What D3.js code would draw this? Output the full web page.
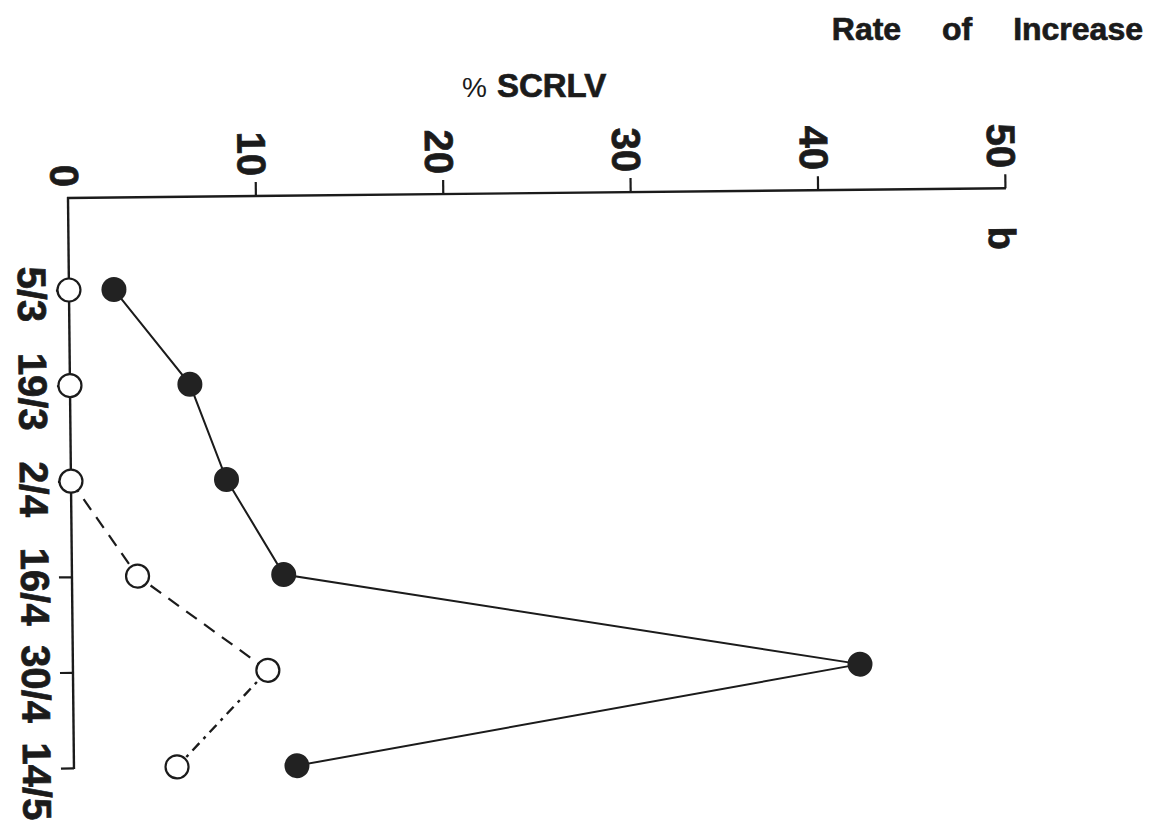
<!DOCTYPE html>
<html>
<head>
<meta charset="utf-8">
<script src="https://cdn.jsdelivr.net/npm/d3@7"></script>
<style>
  html, body { margin: 0; padding: 0; background: #fff; }
  svg { display: block; }
  text { font-family: "Liberation Sans", Arial, Helvetica, sans-serif; fill: #1b1b1b; }
  text.heavy { stroke: #1b1b1b; stroke-width: 0.7px; }
</style>
</head>
<body>
<svg id="chart" width="1157" height="827"></svg>
<script>
// Sampling dates (day/month)
const dates = ["5/3", "19/3", "2/4", "16/4", "30/4", "14/5"];
// Rate of increase, % SCRLV — filled markers
const filledSeries = [2.4, 6.4, 8.3, 11.3, 42.0, 11.9];
// Rate of increase, % SCRLV — open markers
const openSeries = [0, 0, 0, 3.5, 10.4, 5.5];
// Value-axis tick labels
const valueTicks = [0, 10, 20, 30, 40, 50];

const svg = d3.select("#chart");
const ink = "#1b1b1b";

// Titles
svg.append("text")
  .attr("class", "heavy")
  .attr("x", 1143).attr("y", 40)
  .attr("text-anchor", "end")
  .attr("font-size", 32).attr("font-weight", "bold")
  .attr("word-spacing", 32)
  .text("Rate of Increase");

const unit = svg.append("text")
  .attr("x", 462).attr("y", 97)
  .attr("font-size", 33).attr("font-weight", "bold");
unit.append("tspan").attr("font-weight", "normal").attr("font-size", 28).text("%");
unit.append("tspan").attr("class", "heavy").attr("dx", 10).text("SCRLV")
  .style("stroke", ink).style("stroke-width", "0.7px");

// Plot frame: value axis across the top, dates running down the left
const g = svg.append("g")
  .attr("transform", "translate(68,198) rotate(-0.6)");

const x = d3.scaleLinear().domain([0, 50]).range([0, 937]);
const y = d3.scalePoint().domain(dates).range([92, 570]);
const yEnd = 570;

// Top value axis
const xAxis = g.append("g")
  .call(d3.axisTop(x).tickValues(valueTicks.filter(v => v > 0)).tickSize(14).tickSizeOuter(0).tickFormat(""));
xAxis.select(".domain").remove();
xAxis.selectAll("line").attr("stroke", ink).attr("stroke-width", 2.2);
g.append("line")
  .attr("x1", -1).attr("x2", x(50) + 1).attr("y1", 0).attr("y2", 0)
  .attr("stroke", ink).attr("stroke-width", 2.4);

g.selectAll("text.vtick")
  .data(valueTicks)
  .join("text")
  .attr("class", "vtick heavy")
  .attr("font-size", 40).attr("font-weight", "bold")
  .attr("text-anchor", "end")
  .attr("dy", "0.36em")
  .attr("transform", d => `translate(${x(d) - 3},${d === 0 ? -11 : -20}) rotate(90)`)
  .text(d => d);

// Left date axis
const yAxis = g.append("g")
  .call(d3.axisLeft(y).tickSize(13).tickSizeOuter(0).tickFormat(""));
yAxis.select(".domain").remove();
yAxis.selectAll("line").attr("stroke", ink).attr("stroke-width", 2.2);
g.append("line")
  .attr("x1", 0).attr("x2", 0).attr("y1", -1).attr("y2", yEnd + 1)
  .attr("stroke", ink).attr("stroke-width", 2.4);

g.selectAll("text.dtick")
  .data(dates)
  .join("text")
  .attr("class", "dtick heavy")
  .attr("font-size", 40).attr("font-weight", "bold")
  .attr("text-anchor", "middle")
  .attr("transform", (d, i) => `translate(-51,${y(d) + 4 + i * 1.8}) rotate(90)`)
  .text(d => d);

// Panel letter
g.append("text")
  .attr("class", "heavy")
  .attr("font-size", 38).attr("font-weight", "bold")
  .attr("text-anchor", "middle")
  .attr("dy", "0.36em")
  .attr("transform", `translate(${x(50) - 3},50) rotate(90)`)
  .text("b");

// Series lines
const filledPts = dates.map((d, i) => ({ date: d, v: filledSeries[i] }));
const openPts = dates.map((d, i) => ({ date: d, v: openSeries[i] }));
const line = d3.line().x(p => x(p.v)).y(p => y(p.date));

g.append("path")
  .attr("d", line(filledPts))
  .attr("fill", "none").attr("stroke", ink).attr("stroke-width", 2);

// Open series: dashed from the point where it leaves zero
const rising = openPts.slice(2);
g.append("path")
  .attr("d", line(rising.slice(0, 3)))
  .attr("fill", "none").attr("stroke", ink).attr("stroke-width", 2.2)
  .attr("stroke-dasharray", "13,9");
g.append("path")
  .attr("d", line(rising.slice(2)))
  .attr("fill", "none").attr("stroke", ink).attr("stroke-width", 2.4)
  .attr("stroke-dasharray", "10,6,3,6");

// Markers
g.selectAll("circle.open")
  .data(openPts)
  .join("circle")
  .attr("class", "open")
  .attr("cx", p => x(p.v)).attr("cy", p => y(p.date))
  .attr("r", 11.5)
  .attr("fill", "#fff").attr("stroke", ink).attr("stroke-width", 2.2);

g.selectAll("circle.filled")
  .data(filledPts)
  .join("circle")
  .attr("class", "filled")
  .attr("cx", p => x(p.v)).attr("cy", p => y(p.date))
  .attr("r", 12.5)
  .attr("fill", "#222");
</script>
</body>
</html>
